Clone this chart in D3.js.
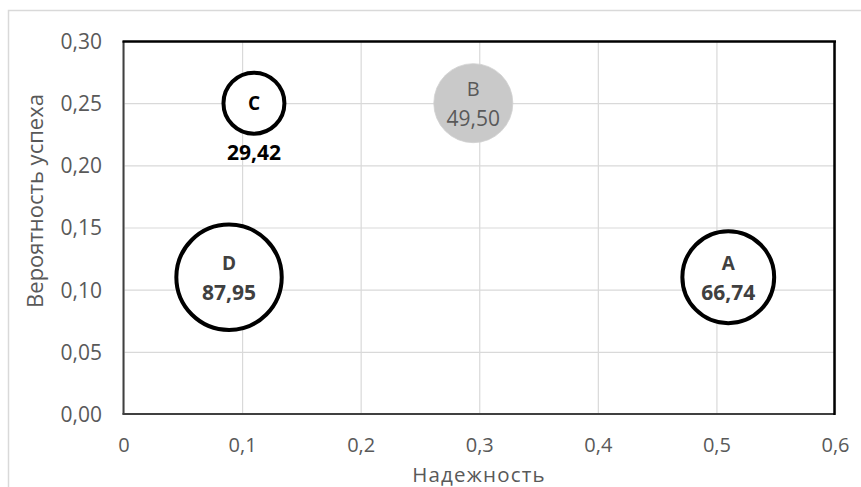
<!DOCTYPE html>
<html><head><meta charset="utf-8">
<script src="https://cdn.jsdelivr.net/npm/d3@7"></script>
<style>body{margin:0;background:#fff}svg{display:block}text{font-family:"Open Sans",sans-serif}</style>
</head><body><svg id="c" width="861" height="487"></svg>
<script>
const names = ["A","B","C","D"];
const xVals = [0.51, 0.295, 0.11, 0.089];
const yVals = [0.11, 0.25, 0.25, 0.11];
const sizes = [66.74, 49.50, 29.42, 87.95];
const xTicks = [0,0.1,0.2,0.3,0.4,0.5,0.6];
const yTicks = [0,0.05,0.10,0.15,0.20,0.25,0.30];
const xTitle = "Надежность";
const yTitle = "Вероятность успеха";

const svg = d3.select("#c");
const x = d3.scaleLinear().domain([0,0.6]).range([123.5,835]);
const y = d3.scaleLinear().domain([0,0.3]).range([414,41]);
const r = d3.scaleSqrt().domain([0,87.95]).range([0,52.7]);
const fmtX = d => d===0 ? "0" : d3.format(".1f")(d).replace(".",",");
const fmtY = d => d3.format(".2f")(d).replace(".",",");
const fmtS = d => d3.format(".2f")(d).replace(".",",");

// outer container border
svg.append("path").attr("d","M8.5,487 V10.5 H861").attr("fill","none").attr("stroke","#d9d9d9").attr("stroke-width",1.5);

// gridlines
svg.append("g").attr("transform","translate(0,414)")
  .call(d3.axisBottom(x).tickValues(xTicks).tickSize(-373).tickFormat(""))
  .call(g=>g.select(".domain").remove())
  .call(g=>g.selectAll("line").attr("stroke","#d9d9d9").attr("stroke-width",1.2));
svg.append("g").attr("transform","translate(123.5,0)")
  .call(d3.axisLeft(y).tickValues(yTicks).tickSize(-711.5).tickFormat(""))
  .call(g=>g.select(".domain").remove())
  .call(g=>g.selectAll("line").attr("stroke","#d9d9d9").attr("stroke-width",1.2));

// tick labels
const xa = svg.append("g").attr("transform","translate(0,414)")
  .call(d3.axisBottom(x).tickValues(xTicks).tickSize(0).tickPadding(0).tickFormat(fmtX));
xa.select(".domain").remove();
xa.selectAll("text").attr("font-size",20).attr("fill","#595959").attr("font-family","'Open Sans',sans-serif").attr("dy",0).attr("y",38);
const ya = svg.append("g").attr("transform","translate(102,0)")
  .call(d3.axisLeft(y).tickValues(yTicks).tickSize(0).tickPadding(0).tickFormat(fmtY));
ya.select(".domain").remove();
ya.selectAll("text").attr("font-size",21).attr("fill","#595959").attr("font-family","'Open Sans',sans-serif").attr("dy","0.35em");

// plot border
svg.append("line").attr("x1",123.5).attr("x2",123.5).attr("y1",41).attr("y2",414.5).attr("stroke","#404040").attr("stroke-width",2);
svg.append("line").attr("x1",122.5).attr("x2",835).attr("y1",414).attr("y2",414).attr("stroke","#404040").attr("stroke-width",2);
svg.append("line").attr("x1",122.5).attr("x2",836).attr("y1",41.5).attr("y2",41.5).attr("stroke","#000").attr("stroke-width",2.5);
svg.append("line").attr("x1",834.5).attr("x2",834.5).attr("y1",41).attr("y2",415).attr("stroke","#000").attr("stroke-width",2.5);

// titles
svg.append("text").attr("x",479).attr("y",482).attr("text-anchor","middle").attr("font-size",20.5).attr("letter-spacing",1.2).attr("fill","#595959").text(xTitle);
svg.append("text").attr("transform","translate(43,201) rotate(-90)").attr("text-anchor","middle").attr("font-size",22).attr("fill","#595959").text(yTitle);

// bubbles
const data = names.map((n,i)=>({n, x:xVals[i], y:yVals[i], s:sizes[i]}));
const styles = {
  A:{fill:"#fff",stroke:"#000",sw:4,col:"#404040",w:"bold"},
  B:{fill:"#c9c9c9",stroke:"#d0d0d0",sw:0.8,col:"#595959",w:"normal"},
  C:{fill:"#fff",stroke:"#000",sw:4,col:"#000",w:"bold"},
  D:{fill:"#fff",stroke:"#000",sw:4,col:"#404040",w:"bold"}
};
const gb = svg.append("g");
gb.selectAll("circle").data(data).join("circle")
  .attr("cx",d=>x(d.x)).attr("cy",d=>y(d.y)).attr("r",d=>r(d.s))
  .attr("fill",d=>styles[d.n].fill).attr("stroke",d=>styles[d.n].stroke).attr("stroke-width",d=>styles[d.n].sw);

data.forEach(d=>{
  const st = styles[d.n];
  const cx = x(d.x), cy = y(d.y);
  if (d.n === "C") {
    gb.append("text").attr("x",cx).attr("y",cy).attr("dy","0.36em").attr("text-anchor","middle")
      .attr("font-size",19).attr("font-weight",st.w).attr("fill",st.col).text(d.n);
    gb.append("text").attr("x",cx).attr("y",cy+r(d.s)+19).attr("dy","0.36em").attr("text-anchor","middle")
      .attr("font-size",21).attr("font-weight",st.w).attr("fill",st.col).text(fmtS(d.s));
  } else {
    gb.append("text").attr("x",cx).attr("y",cy-14).attr("dy","0.36em").attr("text-anchor","middle")
      .attr("font-size",d.n==="B"?20:19).attr("font-weight",st.w).attr("fill",st.col).text(d.n);
    gb.append("text").attr("x",cx).attr("y",cy+15).attr("dy","0.36em").attr("text-anchor","middle")
      .attr("font-size",21).attr("font-weight",st.w).attr("fill",st.col).text(fmtS(d.s));
  }
});
</script></body></html>
